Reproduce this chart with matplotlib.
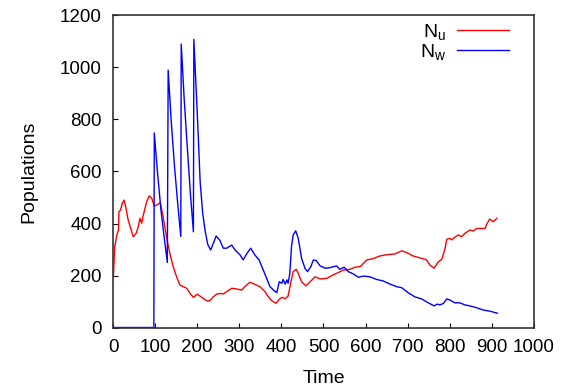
#!/usr/bin/env python3
import matplotlib
matplotlib.use("Agg")
import matplotlib.pyplot as plt

# N_u (red)
time_u = [0, 1, 4, 9, 13, 14, 18, 22, 26, 30, 36, 42, 48, 55, 60, 64, 68, 72, 80, 86,
          92, 98, 104, 112, 119, 127, 135, 143, 151, 159, 167, 175, 183, 191, 200, 211,
          222, 230, 238, 246, 254, 262, 270, 282, 294, 306, 313, 325, 337, 349, 361, 369,
          377, 387, 395, 401, 409, 416, 422, 428, 435, 440, 448, 458, 466, 480, 492, 508,
          520, 531, 547, 563, 575, 587, 603, 618, 634, 650, 670, 686, 698, 713, 729, 745,
          753, 763, 773, 781, 789, 793, 800, 804, 812, 820, 828, 836, 848, 856, 864, 876,
          884, 889, 895, 903, 912]
pop_u = [200, 202, 311, 356, 375, 445, 452, 478, 490, 465, 413, 381, 349, 362, 388, 420,
         401, 433, 484, 506, 497, 467, 471, 480, 426, 349, 285, 234, 195, 163, 157, 151,
         131, 116, 128, 116, 103, 103, 118, 128, 131, 129, 138, 151, 148, 144, 157, 174,
         166, 157, 138, 118, 103, 93, 108, 116, 111, 121, 170, 215, 224, 208, 176, 160,
         172, 195, 187, 189, 200, 208, 221, 224, 232, 234, 260, 265, 275, 280, 283, 295,
         288, 275, 268, 260, 240, 228, 253, 262, 305, 339, 343, 337, 347, 356, 349, 362,
         375, 371, 381, 381, 381, 401, 417, 407, 420]

# N_w (blue)
time_w = [0, 97, 98, 106, 114, 122, 129, 131, 138, 146, 154, 161, 162, 169, 177, 184,
          191, 192, 200, 207, 213, 219, 225, 232, 245, 254, 262, 270, 282, 290, 302, 309,
          317, 327, 337, 347, 357, 365, 373, 381, 389, 395, 401, 404, 409, 413, 416, 420,
          424, 428, 434, 440, 448, 456, 462, 470, 476, 483, 492, 504, 515, 531, 539, 549,
          559, 571, 583, 595, 610, 626, 642, 658, 674, 686, 701, 717, 733, 749, 763, 770,
          777, 785, 793, 800, 812, 824, 836, 848, 864, 880, 895, 913]
pop_w = [0, 0, 748, 590, 450, 340, 250, 990, 800, 620, 470, 350, 1090, 880, 680, 510,
         368, 1108, 830, 560, 440, 370, 320, 298, 352, 335, 305, 305, 317, 298, 279, 260,
         282, 305, 279, 260, 221, 189, 157, 144, 134, 176, 170, 185, 167, 183, 170, 208,
         311, 356, 372, 343, 266, 228, 215, 234, 260, 257, 237, 228, 230, 237, 224, 232,
         215, 206, 193, 198, 195, 185, 179, 167, 157, 153, 134, 118, 110, 95, 83, 90,
         87, 93, 110, 106, 95, 95, 87, 83, 76, 67, 63, 55]

plt.rcParams['font.family'] = ['Liberation Sans', 'DejaVu Sans']
plt.rcParams['mathtext.fontset'] = 'custom'
plt.rcParams['mathtext.rm'] = 'Liberation Sans'
plt.rcParams['mathtext.it'] = 'Liberation Sans'

fig = plt.figure(figsize=(5.68, 3.92), dpi=100)
ax = fig.add_axes([0.199, 0.1645, 0.741, 0.796])

ax.plot(time_u, pop_u, color='#ff0000', linewidth=1.0, label=r'$\mathrm{N_u}$')
ax.plot(time_w, pop_w, color='#0000ff', linewidth=1.0, label=r'$\mathrm{N_w}$')

ax.set_xlim(0, 1000)
ax.set_ylim(0, 1200)
ax.set_xticks(range(0, 1001, 100))
ax.set_yticks(range(0, 1201, 200))
ax.tick_params(direction='in', length=3.5, width=0.8, labelsize=13.5, pad=8,
               top=False, right=False)
for s in ax.spines.values():
    s.set_linewidth(1.2)
    s.set_color('#333333')

ax.set_xlabel("Time", fontsize=14, labelpad=10)
ax.set_ylabel("Populations", fontsize=14, labelpad=16)

ax.legend(loc='upper right', bbox_to_anchor=(0.96, 1.005), frameon=False,
          markerfirst=False, fontsize=14, handlelength=2.7, handletextpad=0.55,
          labelspacing=0.0, borderaxespad=0)

fig.savefig("out.png", dpi=100)
plt.close(fig)
